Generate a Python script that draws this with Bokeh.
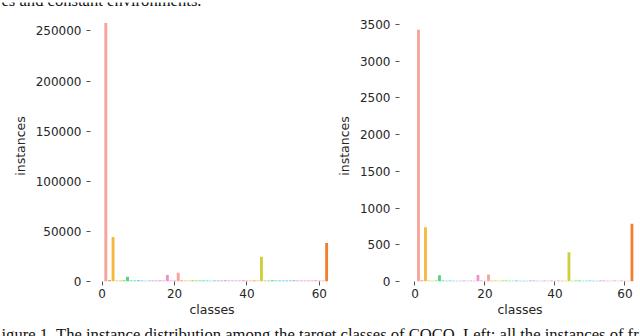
from bokeh.plotting import figure
from bokeh.layouts import row, column
from bokeh.models import ColumnDataSource, Range1d, FixedTicker, NumeralTickFormatter
from bokeh.core.properties import value
from bokeh.embed import file_html
from bokeh.resources import INLINE

# ---- data ----
classes = list(range(1, 63))
all_instances = [
    258000, 1200, 44500, 1100, 1000, 1300, 4700, 1100, 1000, 1200,
    900, 800, 1000, 1100, 900, 1200, 1000, 6500, 1100, 1000,
    8800, 900, 1100, 1000, 1200, 1100, 900, 1000, 1100, 800,
    900, 1000, 1100, 1200, 1000, 900, 1100, 1000, 1200, 900,
    1100, 1000, 900, 24800, 1000, 1100, 1200, 900, 1000, 1100,
    1000, 900, 1200, 1100, 1000, 900, 1100, 1000, 1200, 900,
    1000, 38500,
]
subset_instances = [
    3430, 14, 740, 12, 11, 15, 85, 12, 11, 14,
    10, 9, 11, 12, 10, 14, 11, 88, 12, 11,
    97, 10, 12, 11, 14, 12, 10, 11, 12, 9,
    10, 11, 12, 14, 11, 10, 12, 11, 14, 10,
    12, 11, 10, 400, 11, 12, 14, 10, 11, 12,
    11, 10, 14, 12, 11, 10, 12, 11, 14, 10,
    11, 786,
]
x_ticks = [0, 20, 40, 60]
left_y_ticks = [0, 50000, 100000, 150000, 200000, 250000]
right_y_ticks = [0, 500, 1000, 1500, 2000, 2500, 3000, 3500]
top_text = "es and constant environments."
caption = ("igure 1. The instance distribution among the target classes of COCO. "
           "Left: all the instances of frames")

palette = ["#f7a399", "#f07f2f", "#f6b73c", "#cfcf3e", "#a8d43e", "#7cd64a", "#50d47c",
           "#45d2a5", "#44cfc4", "#48c9dd", "#5bbdf0", "#7eaff7", "#a3a2f8", "#c196f5",
           "#d98eec", "#ec8ede", "#f28fd2", "#f38fcb", "#f595b6", "#f69ca6"]
colors = [palette[(c - 1) % len(palette)] for c in classes]

TXT = "#262626"
FONT = "DejaVu Sans"
SERIF = "Liberation Serif"


def make(values, yticks, ymax, xr, width, border_left):
    src = ColumnDataSource(dict(x=classes, top=values, color=colors))
    p = figure(width=width, height=313, output_backend="svg", toolbar_location=None,
               x_range=Range1d(*xr), y_range=Range1d(0, ymax),
               min_border_left=border_left, min_border_right=0,
               min_border_top=0, min_border_bottom=42)
    p.vbar(x="x", top="top", bottom=0, width=0.8, fill_color="color",
           line_color=None, source=src)
    p.outline_line_color = None
    p.background_fill_color = "white"
    p.border_fill_color = "white"
    p.xgrid.grid_line_color = None
    p.ygrid.grid_line_color = None
    for ax in (p.xaxis[0], p.yaxis[0]):
        ax.axis_line_color = None
        ax.major_tick_in = 0
        ax.major_tick_out = 4
        ax.minor_tick_line_color = None
        ax.major_tick_line_color = "#555555"
        ax.major_label_text_font = FONT
        ax.major_label_text_font_size = "12px"
        ax.major_label_text_color = TXT
        ax.axis_label_text_font = FONT
        ax.axis_label_text_font_size = "12.5px"
        ax.axis_label_text_font_style = "normal"
        ax.axis_label_text_color = TXT
    p.xaxis.ticker = FixedTicker(ticks=x_ticks)
    p.yaxis.ticker = FixedTicker(ticks=yticks)
    p.yaxis.formatter = NumeralTickFormatter(format="0")
    p.xaxis.axis_label = "classes"
    p.yaxis.axis_label = "instances"
    p.xaxis.major_label_standoff = 3
    p.xaxis.axis_label_standoff = 1
    p.yaxis.major_label_standoff = 5
    p.yaxis.axis_label_standoff = 5
    return p


def text_strip(txt, height, y, baseline, y_off):
    f = figure(width=640, height=height, output_backend="svg", toolbar_location=None,
               x_range=Range1d(0, 640), y_range=Range1d(0, height),
               x_axis_location=None, y_axis_location=None,
               min_border=0, min_border_left=0, min_border_right=0,
               min_border_top=0, min_border_bottom=0)
    f.outline_line_color = None
    f.xgrid.grid_line_color = None
    f.ygrid.grid_line_color = None
    f.text(x=[1], y=[y], text=[txt], text_font=value(SERIF), text_font_size="16.6px",
           text_color="#111111", text_baseline=baseline, text_align="left",
           y_offset=y_off)
    return f


top = text_strip(top_text, 10, 6.5, "alphabetic", -6)
left = make(all_instances, left_y_ticks, 270400, (-3.23, 63.9), 333, 90)
right = make(subset_instances, right_y_ticks, 3692, (-4.43, 64.45), 307, 58)
cap = text_strip(caption, 13, 12, "top", 0)

layout = column(top, row(left, right), cap)
open("out.html", "w").write(file_html(layout, INLINE))
